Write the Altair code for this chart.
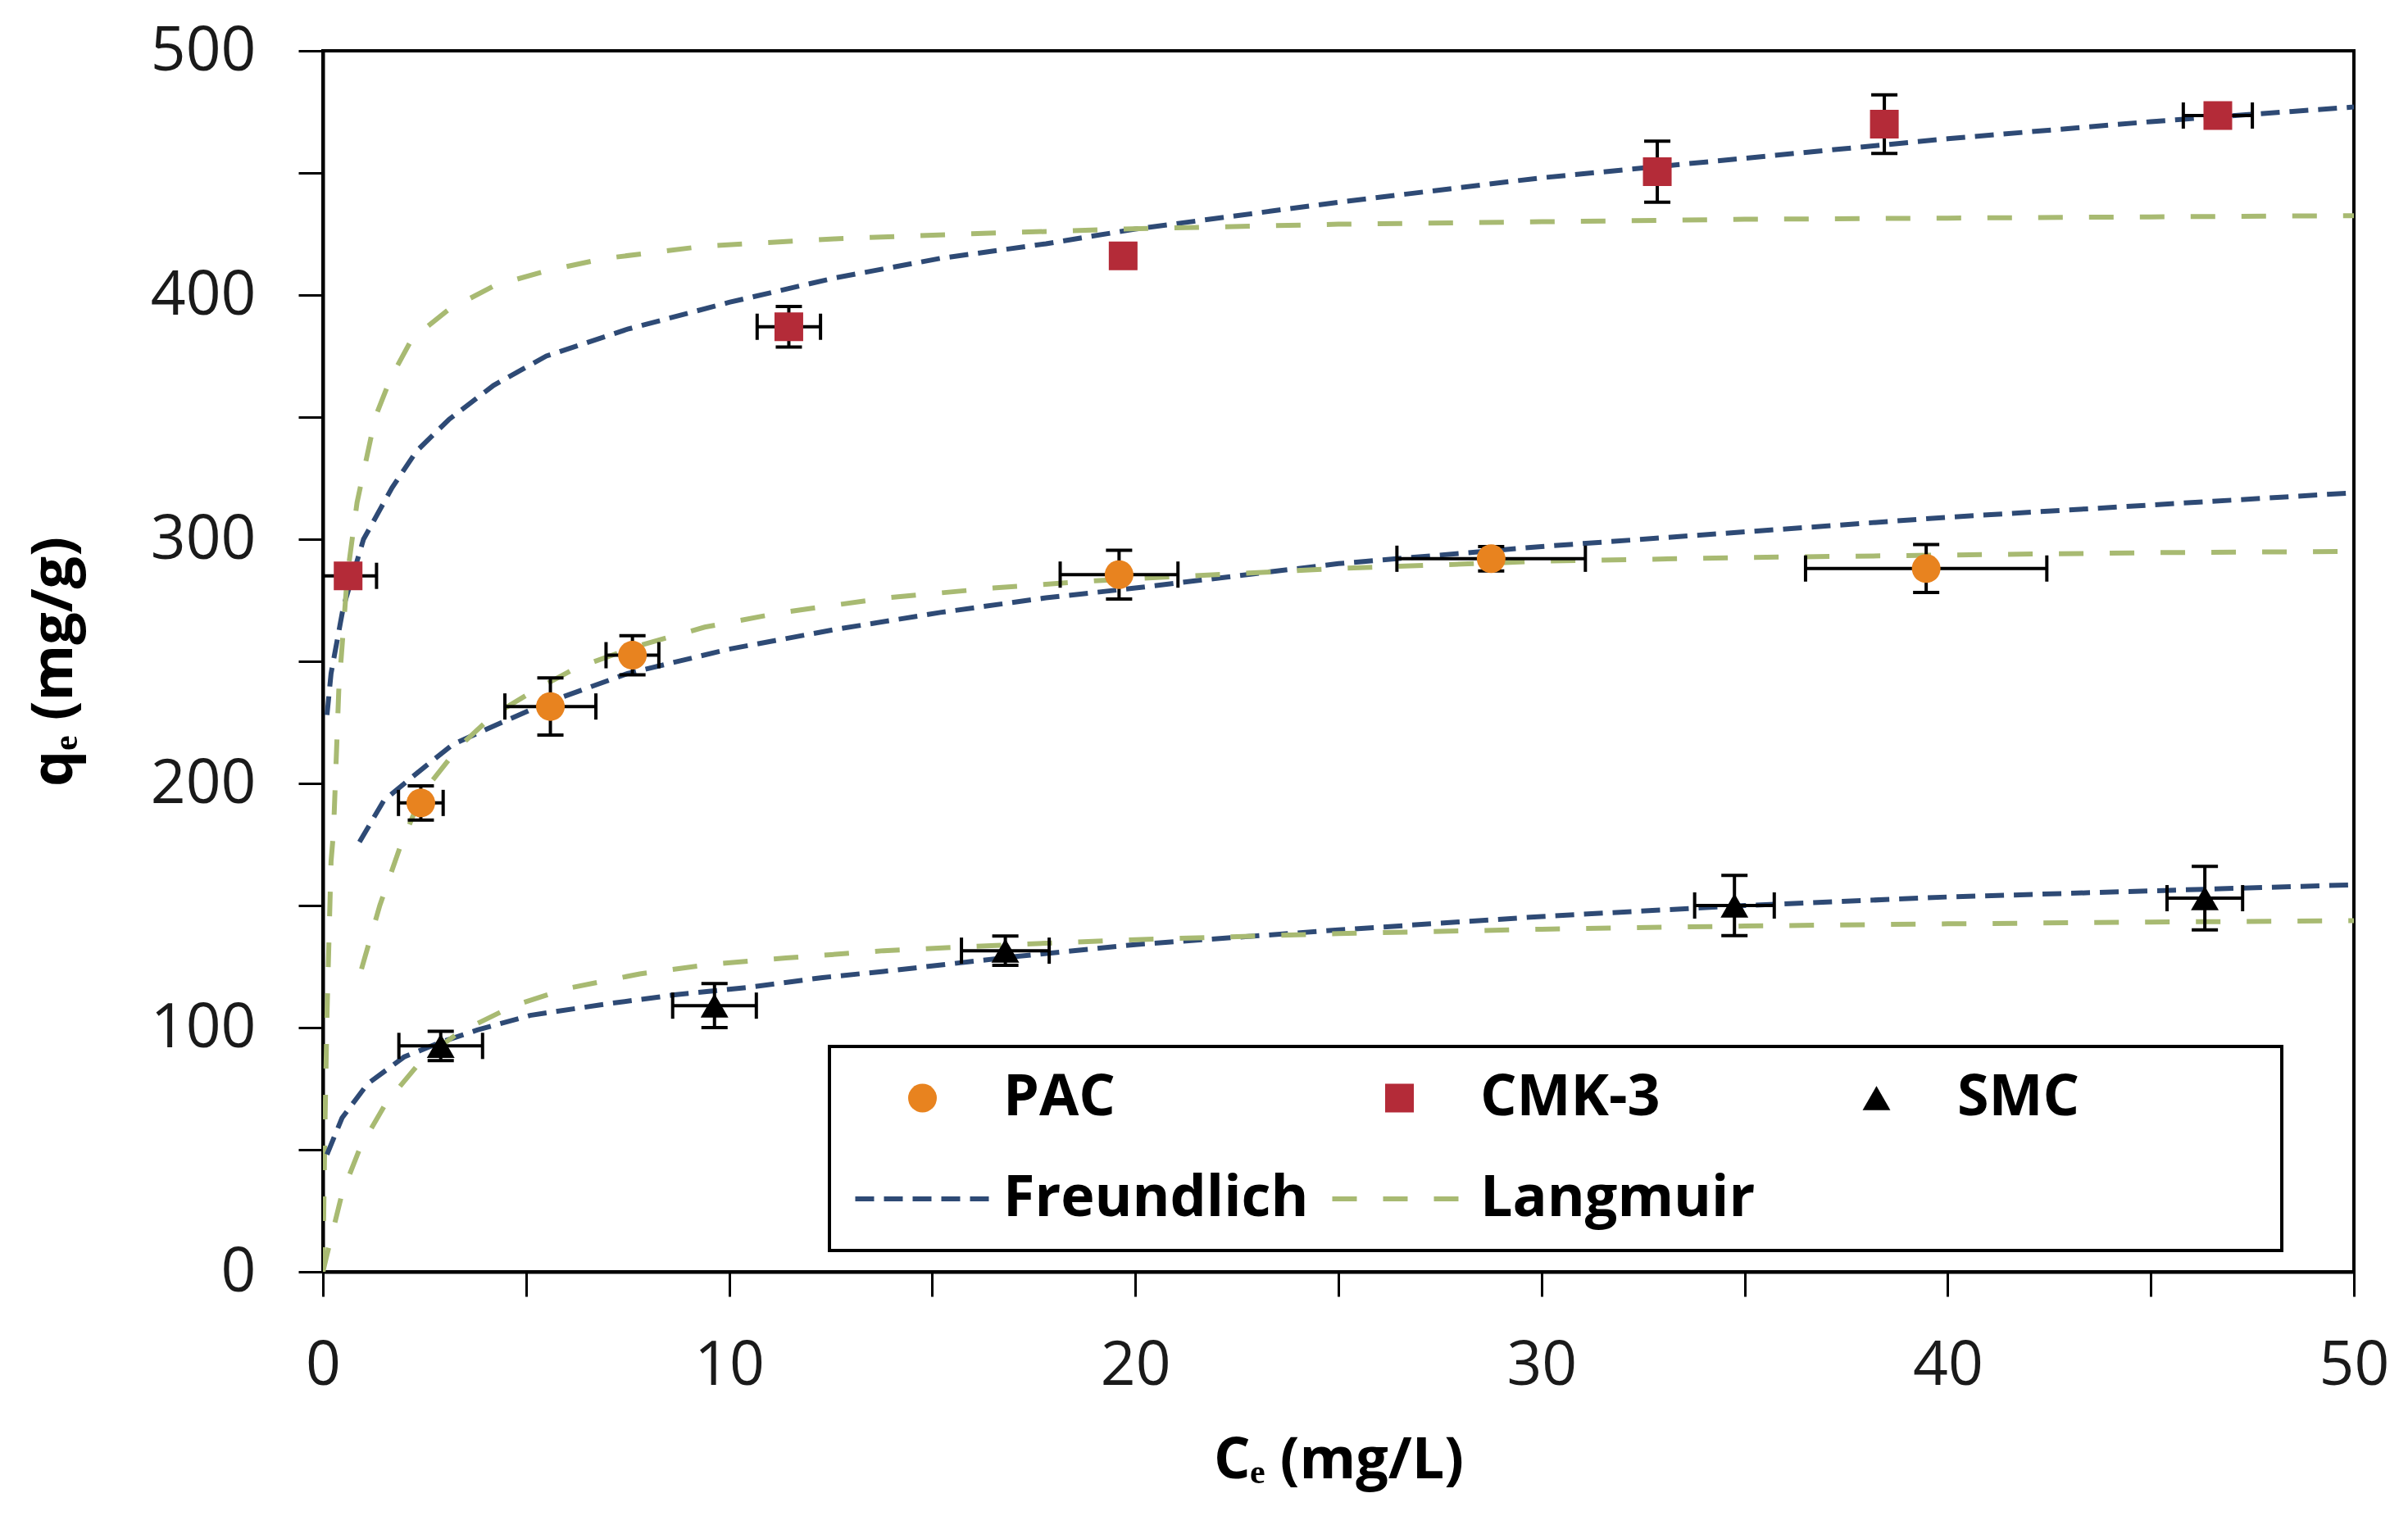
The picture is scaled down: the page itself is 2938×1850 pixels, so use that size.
import altair as alt
import pandas as pd

# ---------------- data ----------------
keys = ["PAC", "CMK-3", "SMC", "Freundlich", "Langmuir"]
key_colors = ["#E8831F", "#B42B38", "#000000", "#2E4A75", "#A8BA72"]
key_shapes = ["circle", "square", "triangle-up", "stroke", "stroke"]
key_sizes = [1225, 1225, 1150, 26900, 26900]
key_dashes = [[1, 0], [1, 0], [1, 0], [23, 12], [30, 32]]
key_widths = [0, 0, 0, 6, 6]

pac_x = [2.41, 5.6, 7.62, 19.6, 28.76, 39.47]
pac_y = [192, 231.5, 252.5, 285.5, 292, 288]
pac_xerr = [0.55, 1.12, 0.65, 1.45, 2.32, 2.97]
pac_yerr = [7, 11.7, 8, 10, 5, 9.8]

cmk_x = [0.62, 11.47, 19.7, 32.85, 38.44, 46.65]
cmk_y = [285, 387, 416, 450.5, 470, 473.5]
cmk_xerr = [0.7, 0.78, 0.3, 0.3, 0.3, 0.85]
cmk_yerr = [4, 8.3, 4, 12.5, 12, 4]

smc_x = [2.9, 9.64, 16.8, 34.75, 46.33]
smc_y = [92.5, 109, 131.5, 150, 153]
smc_xerr = [1.03, 1.03, 1.08, 0.98, 0.93]
smc_yerr = [6, 9, 6, 12.3, 13]

# fitted curves
cmkF_x = [0.1, 0.2, 0.5, 1.0, 1.7, 2.3, 3.1, 4.2, 5.5, 7.5, 10, 12.6, 15.2, 17.8, 20, 25, 30, 35, 40, 45, 50]
cmkF_y = [228, 245, 272, 300, 321, 336, 349, 363, 375, 386, 397, 407, 415, 421, 427, 438, 448, 456, 464, 471, 477]
cmkL_x = [0, 0.05, 0.1, 0.2, 0.26, 0.39, 0.6, 0.84, 1.29, 1.67, 2.19, 3.09, 4.24, 5.53, 6.95, 9.39, 12.6, 15.8, 19.7, 25, 30, 35, 40, 45, 50]
cmkL_y = [0, 60, 105, 168, 180, 238, 285, 315, 350, 366, 382, 394, 404, 410, 415, 420, 423, 425, 427, 429, 430, 431, 431.5, 432, 432.5]
pacF_x = [0.9, 1.5, 2.3, 3.2, 4.0, 5.5, 7.5, 10, 12.6, 15.2, 17.8, 20, 25, 30, 35, 40, 45, 50]
pacF_y = [176, 193, 204, 216, 222, 233, 245, 255, 263, 270, 276, 280, 290, 297, 303, 309, 314, 319]
pacL_x = [0.95, 1.4, 1.9, 2.45, 3.35, 4.2, 5.2, 6.2, 7.7, 9.4, 11.3, 13.9, 16.5, 19, 25, 30, 35, 40, 45, 50]
pacL_y = [124, 150, 174, 196, 215, 228, 238, 247, 256, 264, 270, 276, 280, 283, 288, 291, 292.5, 293.5, 294.5, 295]
smcF_x = [0.1, 0.47, 1.1, 2.0, 2.9, 3.8, 5.1, 6.9, 8.7, 10.5, 12.3, 13.8, 17, 20, 25, 30, 35, 40, 45, 50]
smcF_y = [48, 63, 77, 88, 94, 99, 105, 109.5, 113.5, 116.5, 120.5, 123, 129, 134, 140, 145.5, 150, 153.5, 156, 158.5]
smcL_x = [0, 0.1, 0.47, 0.92, 1.55, 2.45, 3.35, 4.7, 6.0, 7.8, 9.6, 11.4, 13.8, 17, 20, 25, 30, 35, 40, 45, 50]
smcL_y = [0, 7, 32, 51, 69, 87, 98, 109, 116, 122, 126, 128.5, 131.5, 134, 136, 138.5, 140.3, 141.6, 142.5, 143.2, 143.8]

# ---------------- tables ----------------
rows = []
for k, xs, ys, xe, ye in [("PAC", pac_x, pac_y, pac_xerr, pac_yerr),
                          ("CMK-3", cmk_x, cmk_y, cmk_xerr, cmk_yerr),
                          ("SMC", smc_x, smc_y, smc_xerr, smc_yerr)]:
    for a, b, c, d in zip(xs, ys, xe, ye):
        rows.append({"key": k, "x": a, "y": b, "xerr": c, "yerr": d})
pts = pd.DataFrame(rows)

crow = []
for k, name, xs, ys in [("Freundlich", "CMK-F", cmkF_x, cmkF_y),
                        ("Langmuir", "CMK-L", cmkL_x, cmkL_y),
                        ("Freundlich", "PAC-F", pacF_x, pacF_y),
                        ("Langmuir", "PAC-L", pacL_x, pacL_y),
                        ("Freundlich", "SMC-F", smcF_x, smcF_y),
                        ("Langmuir", "SMC-L", smcL_x, smcL_y)]:
    for a, b in zip(xs, ys):
        crow.append({"key": k, "curve": name, "x": a, "y": b})
curves = pd.DataFrame(crow)

# ---------------- encodings ----------------
XT = "Cₑ (mg/L)"
YT = "qₑ (mg/g)"
xscale = alt.Scale(domain=[0, 50], nice=False, zero=False)
yscale = alt.Scale(domain=[0, 500], nice=False, zero=False)
xaxis = alt.Axis(values=list(range(0, 51, 5)),
                 labelExpr="datum.value % 10 == 0 ? datum.label : ''")
yaxis = alt.Axis(values=list(range(0, 501, 50)),
                 labelExpr="datum.value % 100 == 0 ? datum.label : ''")


def X(f):
    return alt.X(f, scale=xscale, axis=xaxis, title=XT)


def Y(f):
    return alt.Y(f, scale=yscale, axis=yaxis, title=YT)


# the last column of the legend box is wider than its text in the reference;
# pad its label with no-break spaces (closed by a zero-width space so they are
# not trimmed) so the frame reaches the same width
pad = "\u00a0" * 12 + "\u200b"
legend_label_expr = "datum.label == 'SMC' ? 'SMC" + pad + "' : datum.label"


def LG():
    return alt.Legend(title=None, labelExpr=legend_label_expr)


color_enc = alt.Color("key:N", scale=alt.Scale(domain=keys, range=key_colors), legend=LG())

lines = alt.Chart(curves).mark_line(clip=True).encode(
    x=X("x:Q"), y=Y("y:Q"),
    color=color_enc,
    strokeDash=alt.StrokeDash("key:N", scale=alt.Scale(type="ordinal", domain=keys, range=key_dashes),
                              legend=LG()),
    strokeWidth=alt.StrokeWidth("key:N", scale=alt.Scale(type="ordinal", domain=keys, range=key_widths),
                                legend=LG()),
    detail="curve:N",
)

base = alt.Chart(pts).transform_calculate(
    xlo="datum.x - datum.xerr", xhi="datum.x + datum.xerr",
    ylo="datum.y - datum.yerr", yhi="datum.y + datum.yerr",
)

ebar_y = base.mark_rule(color="black", strokeWidth=4, clip=True).encode(
    x=X("x:Q"), y=Y("ylo:Q"), y2="yhi:Q")
ebar_x = base.mark_rule(color="black", strokeWidth=4, clip=True).encode(
    y=Y("y:Q"), x=X("xlo:Q"), x2="xhi:Q")
cap_y = base.transform_fold(["ylo", "yhi"], as_=["side", "yc"]).mark_tick(
    orient="horizontal", size=32, thickness=4, color="black", opacity=1, clip=True
).encode(x=X("x:Q"), y=Y("yc:Q"))
cap_x = base.transform_fold(["xlo", "xhi"], as_=["side", "xc"]).mark_tick(
    orient="vertical", size=32, thickness=4, color="black", opacity=1, clip=True
).encode(x=X("xc:Q"), y=Y("y:Q"))

points = alt.Chart(pts).mark_point(filled=True, opacity=1, strokeWidth=0).encode(
    x=X("x:Q"), y=Y("y:Q"),
    color=color_enc,
    shape=alt.Shape("key:N", scale=alt.Scale(domain=keys, range=key_shapes), legend=LG()),
    size=alt.Size("key:N", scale=alt.Scale(type="ordinal", domain=keys, range=key_sizes),
                  legend=LG()),
)

chart = alt.layer(lines, ebar_x, ebar_y, cap_x, cap_y, points).properties(
    width=2478, height=1490,
    padding={"left": 386, "top": 54, "right": 58, "bottom": 290},
    autosize=alt.AutoSizeParams(type="none"),
    background="white",
).configure_view(
    stroke="black", strokeWidth=4
).configure_axis(
    grid=False, domainColor="black", domainWidth=4,
    tickColor="black", tickWidth=3, tickSize=30,
    labelFont="Open Sans", labelFontSize=75, labelColor="#1a1a1a",
    labelFlush=False, labelOverlap=False,
    titleFont="Open Sans", titleFontSize=70, titleFontWeight="bold", titleColor="black",
).configure_axisX(
    labelPadding=48, titlePadding=44
).configure_axisY(
    labelPadding=52, titlePadding=92
).configure_legend(
    orient="none", legendX=618, legendY=1215, direction="horizontal",
    columns=3, gridAlign="all", clipHeight=70, padding=28,
    rowPadding=53, columnPadding=25, labelOffset=13,
    labelFont="Open Sans", labelFontSize=70, labelFontWeight="bold", labelColor="black",
    labelLimit=0, symbolLimit=0, symbolOpacity=1,
    strokeColor="black", strokeWidth=4, fillColor="white",
)

chart.save("out.html", embed_options={"renderer": "svg", "actions": False})
